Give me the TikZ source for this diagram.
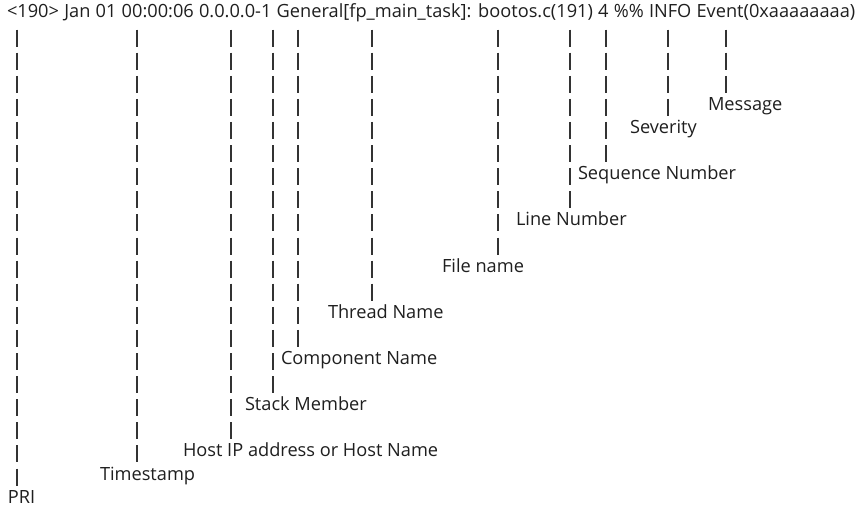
\documentclass[tikz,border=0pt]{standalone}
\usepackage{fontspec}
\setmainfont{Open Sans}
\begin{document}
\begin{tikzpicture}[x=1pt,y=-1pt,
  lbl/.style={anchor=base west,inner sep=0pt,outer sep=0pt,text=black!88,font=\fontsize{18.2}{22}\selectfont},
  bar/.style={draw=black!80,line width=1.2pt,dash pattern=on 17pt off 6.1pt}]
\useasboundingbox (0,0) rectangle (859,508);
\fill[white] (0,0) rectangle (859,508);
% title
\node[lbl] (title) at (7,18) {\spaceskip=\dimexpr\fontdimen2\font+0.5pt\relax <190> Jan 01 00:00:06 0.0.0.0-1 General[fp\_main\_task]: bootos.c(191) 4 \%\% INFO Event(0xaaaaaaaa)};
% labels (row k baseline = 18 + 23.1 k)
\node[lbl] (msg)  at (708,110.4) {Message};
\node[lbl] (sev)  at (630,133.5) {Severity};
\node[lbl] (seq)  at (578,179.7) {Sequence Number};
\node[lbl] (line) at (516,225.9) {Line Number};
\node[lbl] (file) at (442,272.1) {File name};
\node[lbl] (thr)  at (328,318.3) {Thread Name};
\node[lbl] (comp) at (281,364.5) {Component Name};
\node[lbl] (stk)  at (245,410.7) {Stack Member};
\node[lbl] (host) at (183,456.9) {Host IP address or Host Name};
\node[lbl] (ts)   at (100,480.0) {Timestamp};
\node[lbl] (pri)  at (8,503.1)   {PRI};
% bar column tops (row 1) and bottoms (row L-1): center 15+23.1k, half length 8.5
\foreach \n/\x/\L in {pri/17/21, ts/137/20, host/231/19, stk/273/17, comp/298/15, thr/372/13, file/498/11, line/570/9, seq/606/7, sev/668/5, msg/726/4}{
  \coordinate (\n-top) at (\x,29.6);
  \coordinate (\n-bot) at (\x,{15+23.1*(\L-1)+8.5});
  \draw[bar] (\n-top) -- (\n-bot);
}
\end{tikzpicture}
\end{document}
